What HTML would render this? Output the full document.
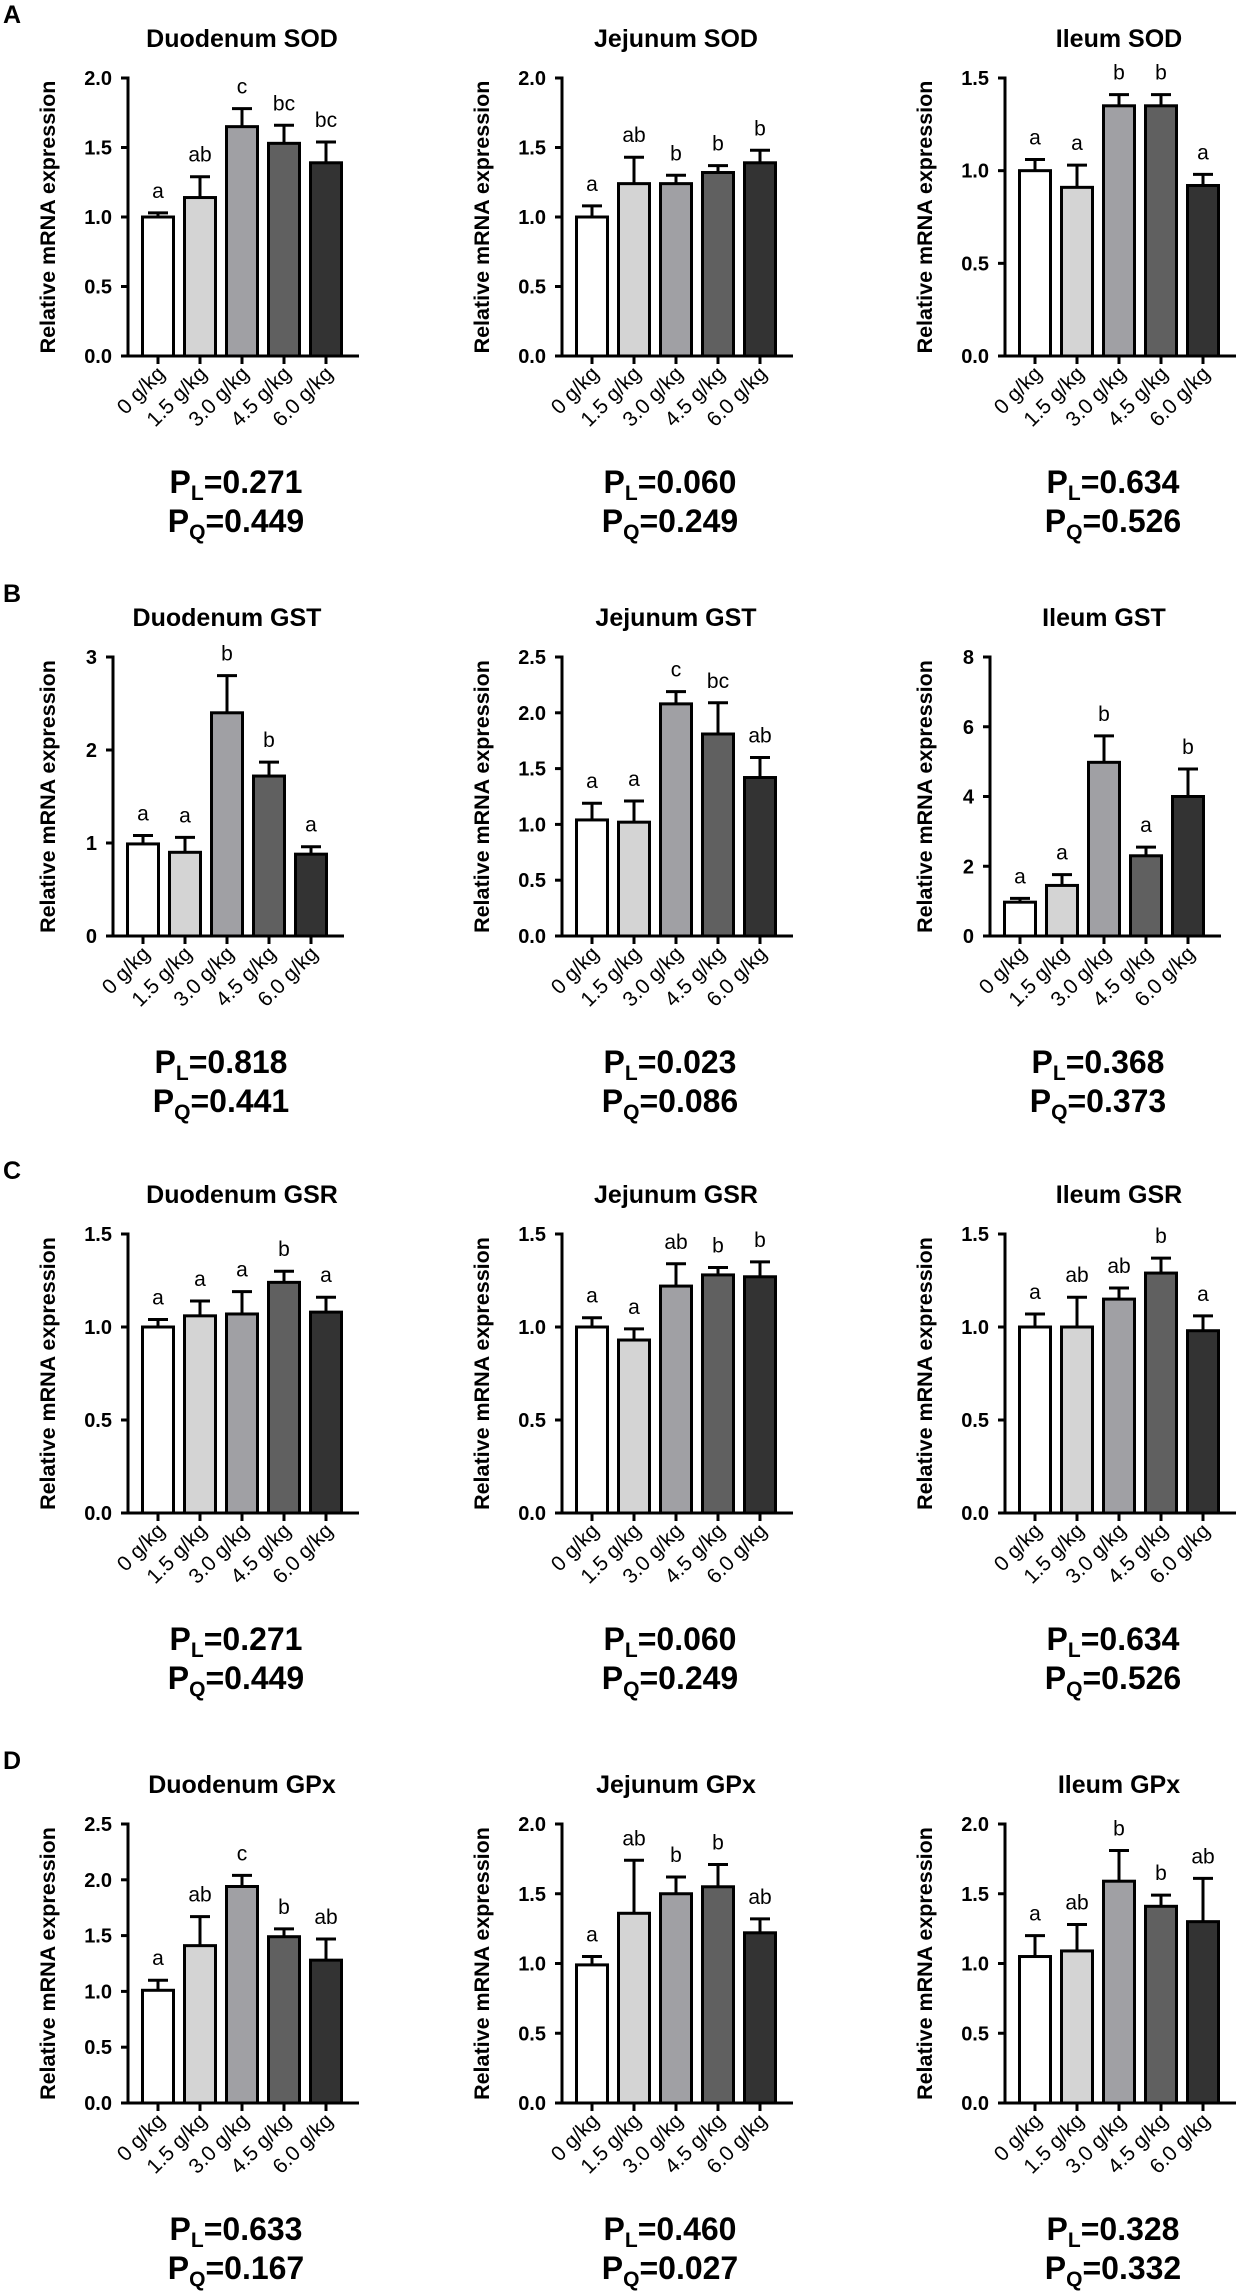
<!DOCTYPE html>
<html><head><meta charset="utf-8"><title>Antioxidant gene expression</title>
<style>html,body{margin:0;padding:0;background:#fff}svg{display:block}text{font-family:"Liberation Sans",Arial,sans-serif}</style>
</head><body>
<svg id="fig" width="1242" height="2295" viewBox="0 0 1242 2295" xmlns="http://www.w3.org/2000/svg"></svg>
<script>
const categories = ["0 g/kg","1.5 g/kg","3.0 g/kg","4.5 g/kg","6.0 g/kg"];
const barFills = ["#ffffff","#d4d4d4","#a0a0a4","#606060","#333333"];

const duodenumSOD = [1.00,1.14,1.65,1.53,1.39];
const duodenumSODErr = [1.03,1.29,1.78,1.66,1.54];
const duodenumSODSig = ["a","ab","c","bc","bc"];
const jejunumSOD = [1.00,1.24,1.24,1.32,1.39];
const jejunumSODErr = [1.08,1.43,1.30,1.37,1.48];
const jejunumSODSig = ["a","ab","b","b","b"];
const ileumSOD = [1.00,0.91,1.35,1.35,0.92];
const ileumSODErr = [1.06,1.03,1.41,1.41,0.98];
const ileumSODSig = ["a","a","b","b","a"];

const duodenumGST = [0.99,0.90,2.40,1.72,0.88];
const duodenumGSTErr = [1.08,1.06,2.80,1.87,0.96];
const duodenumGSTSig = ["a","a","b","b","a"];
const jejunumGST = [1.04,1.02,2.08,1.81,1.42];
const jejunumGSTErr = [1.19,1.21,2.19,2.09,1.60];
const jejunumGSTSig = ["a","a","c","bc","ab"];
const ileumGST = [0.97,1.45,4.98,2.30,4.00];
const ileumGSTErr = [1.08,1.76,5.74,2.55,4.79];
const ileumGSTSig = ["a","a","b","a","b"];

const duodenumGSR = [1.00,1.06,1.07,1.24,1.08];
const duodenumGSRErr = [1.04,1.14,1.19,1.30,1.16];
const duodenumGSRSig = ["a","a","a","b","a"];
const jejunumGSR = [1.00,0.93,1.22,1.28,1.27];
const jejunumGSRErr = [1.05,0.99,1.34,1.32,1.35];
const jejunumGSRSig = ["a","a","ab","b","b"];
const ileumGSR = [1.00,1.00,1.15,1.29,0.98];
const ileumGSRErr = [1.07,1.16,1.21,1.37,1.06];
const ileumGSRSig = ["a","ab","ab","b","a"];

const duodenumGPx = [1.01,1.41,1.94,1.49,1.28];
const duodenumGPxErr = [1.10,1.67,2.04,1.56,1.47];
const duodenumGPxSig = ["a","ab","c","b","ab"];
const jejunumGPx = [0.99,1.36,1.50,1.55,1.22];
const jejunumGPxErr = [1.05,1.74,1.62,1.71,1.32];
const jejunumGPxSig = ["a","ab","b","b","ab"];
const ileumGPx = [1.05,1.09,1.59,1.41,1.30];
const ileumGPxErr = [1.20,1.28,1.81,1.49,1.61];
const ileumGPxSig = ["a","ab","b","b","ab"];

const titles = ["Duodenum SOD","Jejunum SOD","Ileum SOD","Duodenum GST","Jejunum GST","Ileum GST","Duodenum GSR","Jejunum GSR","Ileum GSR","Duodenum GPx","Jejunum GPx","Ileum GPx"];
const yMaxes = [2.0,2.0,1.5,3,2.5,8,1.5,1.5,1.5,2.5,2.0,2.0];
const yStepsList = [0.5,0.5,0.5,1,0.5,2,0.5,0.5,0.5,0.5,0.5,0.5];
const pLinear = ["0.271","0.060","0.634","0.818","0.023","0.368","0.271","0.060","0.634","0.633","0.460","0.328"];
const pQuad = ["0.449","0.249","0.526","0.441","0.086","0.373","0.449","0.249","0.526","0.167","0.027","0.332"];
const panelLetters = ["A","B","C","D"];

const valuesList = [duodenumSOD,jejunumSOD,ileumSOD,duodenumGST,jejunumGST,ileumGST,duodenumGSR,jejunumGSR,ileumGSR,duodenumGPx,jejunumGPx,ileumGPx];
const errList = [duodenumSODErr,jejunumSODErr,ileumSODErr,duodenumGSTErr,jejunumGSTErr,ileumGSTErr,duodenumGSRErr,jejunumGSRErr,ileumGSRErr,duodenumGPxErr,jejunumGPxErr,ileumGPxErr];
const sigList = [duodenumSODSig,jejunumSODSig,ileumSODSig,duodenumGSTSig,jejunumGSTSig,ileumGSTSig,duodenumGSRSig,jejunumGSRSig,ileumGSRSig,duodenumGPxSig,jejunumGPxSig,ileumGPxSig];

const NS = "http://www.w3.org/2000/svg";
const svg = document.getElementById("fig");
function mk(tag, attrs, parent, txt){
  const e = document.createElementNS(NS, tag);
  for (const k in attrs) e.setAttribute(k, attrs[k]);
  if (txt !== undefined) e.textContent = txt;
  (parent||svg).appendChild(e);
  return e;
}
const rowTop = [78,657,1234,1824];
const rowZero = [356,936,1513,2103];
const colBase = [128,562,1005];
const colOff = [0,434,877];

panelLetters.forEach((L,r)=>{
  const t = mk("text",{x:3,y:rowTop[r]-55,"font-size":25,"font-weight":"bold",fill:"#000"},svg,L);
  
  
});

for (let p=0;p<12;p++){
  const r = Math.floor(p/3), c = p%3;
  const top = rowTop[r], zero = rowZero[r];
  const yMax = yMaxes[p], step = yStepsList[p];
  const intLabels = Number.isInteger(step);
  const X0 = colBase[c] - (intLabels ? 15 : 0);
  const y = v => zero - (v / yMax) * (zero - top);
  const xc = i => X0 + 30 + 42 * i;
  const slug = titles[p].toLowerCase().replace(/ /g,'-');
  const g = mk("g",{});
  
  

  const title = mk("text",{x:X0+114,y:top-31,"text-anchor":"middle","font-size":25,"font-weight":"bold"},g,titles[p]);
  
  

  const yl = mk("text",{x:0,y:0,transform:`translate(${48+colOff[c]+7},${(top+zero)/2}) rotate(-90)`,"text-anchor":"middle","font-size":21.5,"font-weight":"bold"},g,"Relative mRNA expression");
  
  

  // bars
  for (let i=0;i<5;i++){
    const v = valuesList[p][i], e = errList[p][i];
    const eb = mk("line",{x1:xc(i),x2:xc(i),y1:y(v),y2:y(e),stroke:"#000","stroke-width":3},g);
    
    
    const cap = mk("line",{x1:xc(i)-10,x2:xc(i)+10,y1:y(e),y2:y(e),stroke:"#000","stroke-width":3},g);
    
    
    const b = mk("rect",{x:xc(i)-15.5,y:y(v),width:31,height:zero-y(v),fill:barFills[i],stroke:"#000","stroke-width":3},g);
    
    
    const s = mk("text",{x:xc(i),y:y(e)-15,"text-anchor":"middle","font-size":21},g,sigList[p][i]);
    
    
    const tk = mk("line",{x1:xc(i),x2:xc(i),y1:zero,y2:zero+8,stroke:"#000","stroke-width":3},g);
    
    
    const xl = mk("text",{x:0,y:0,transform:`translate(${xc(i)+8},${zero+19}) rotate(-45)`,"text-anchor":"end","font-size":21},g,categories[i]);
    
    
  }
  // axes
  const ya = mk("line",{x1:X0,x2:X0,y1:top-1.5,y2:zero+1.5,stroke:"#000","stroke-width":3},g);
  
  
  const xa = mk("line",{x1:X0-7,x2:X0+231,y1:zero,y2:zero,stroke:"#000","stroke-width":3},g);
  
  
  const n = Math.round(yMax/step);
  for (let k=0;k<=n;k++){
    const v = k*step;
    const t = mk("line",{x1:X0-7,x2:X0,y1:y(v),y2:y(v),stroke:"#000","stroke-width":3},g);
    
    
    const tl = mk("text",{x:X0-16,y:y(v)+7,"text-anchor":"end","font-size":20,"font-weight":"bold"},g,intLabels ? String(v) : v.toFixed(1));
    
    
  }
  // p values
  const pl = mk("text",{x:X0+108,y:zero+137,"text-anchor":"middle","font-size":32,"font-weight":"bold"},g);
  
  
  mk("tspan",{},pl,"P");
  mk("tspan",{"font-size":21,dy:7},pl,"L");
  mk("tspan",{dy:-7},pl,"="+pLinear[p]);
  const pq = mk("text",{x:X0+108,y:zero+176,"text-anchor":"middle","font-size":32,"font-weight":"bold"},g);
  
  
  mk("tspan",{},pq,"P");
  mk("tspan",{"font-size":21,dy:7},pq,"Q");
  mk("tspan",{dy:-7},pq,"="+pQuad[p]);
}
</script>
</body></html>
